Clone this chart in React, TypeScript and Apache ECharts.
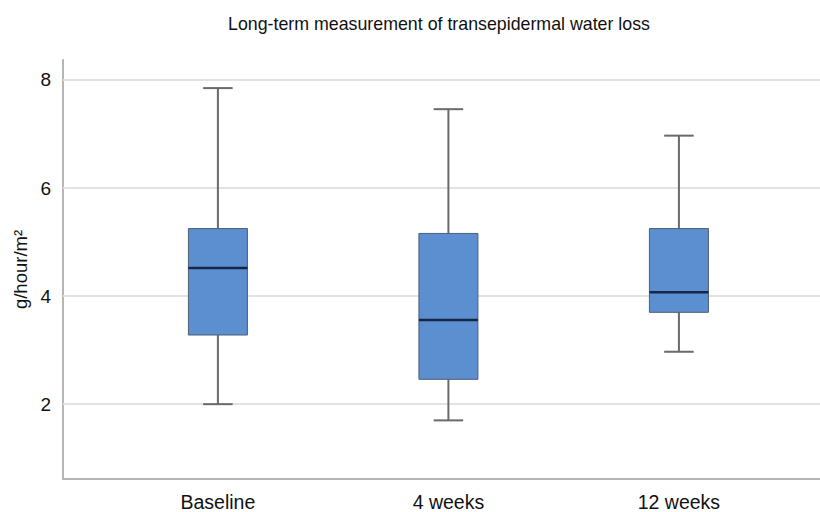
import React, { useEffect, useRef } from "react";
import * as echarts from "echarts";

const categories = ["Baseline", "4 weeks", "12 weeks"];
const minValues = [2.0, 1.7, 2.97];
const q1Values = [3.28, 2.46, 3.7];
const medianValues = [4.52, 3.56, 4.07];
const q3Values = [5.25, 5.16, 5.25];
const maxValues = [7.85, 7.46, 6.97];
const yTicks = [2, 4, 6, 8];
const categoryIndex = [0, 1, 2];

const FONT = "'Liberation Sans', Arial, sans-serif";

export default function App() {
  const ref = useRef<HTMLDivElement>(null);
  useEffect(() => {
    if (!ref.current) return;
    const chart = echarts.init(ref.current, undefined, { renderer: "svg" });
    const data = categories.map((_, i) => [
      categoryIndex[i],
      minValues[i],
      q1Values[i],
      medianValues[i],
      q3Values[i],
      maxValues[i],
    ]);
    chart.setOption({
      animation: false,
      backgroundColor: "#ffffff",
      title: {
        text: "Long-term measurement of transepidermal water loss",
        left: 434,
        top: 10,
        textAlign: "center",
        textStyle: { fontFamily: FONT, fontSize: 17.8, fontWeight: "normal", color: "#111" },
      },
      grid: { left: 63, right: 0, top: 60, bottom: 32, containLabel: false },
      xAxis: {
        type: "value",
        min: -0.672,
        max: 2.612,
        axisLine: { show: true, onZero: false, lineStyle: { color: "#b5b5b5", width: 2 } },
        axisTick: { show: false },
        splitLine: { show: false },
        axisLabel: {
          customValues: categoryIndex,
          formatter: (v: number) => categories[Math.round(v)] ?? "",
          fontFamily: FONT,
          fontSize: 19.5,
          color: "#111",
          margin: 13,
        },
      },
      yAxis: {
        type: "value",
        min: 0.615,
        max: 8.37,
        name: "g/hour/m\u00B2",
        nameLocation: "middle",
        nameGap: 26,
        nameRotate: 90,
        nameTextStyle: { fontFamily: FONT, fontSize: 18.5, color: "#111" },
        axisLine: { show: true, onZero: false, lineStyle: { color: "#b5b5b5", width: 2 } },
        axisTick: { show: false },
        splitLine: { show: false },
        axisLabel: {
          customValues: yTicks,
          fontFamily: FONT,
          fontSize: 19,
          color: "#111",
          margin: 12,
        },
      },
      series: [
        {
          type: "custom",
          z: 3,
          data,
          encode: { x: 0, y: [1, 2, 3, 4, 5] },
          renderItem: (params: any, api: any) => {
            const x = api.value(0);
            const lo = api.coord([x, api.value(1)]);
            const q1 = api.coord([x, api.value(2)]);
            const med = api.coord([x, api.value(3)]);
            const q3 = api.coord([x, api.value(4)]);
            const hi = api.coord([x, api.value(5)]);
            const w = api.size([1, 0])[0] * 0.256;
            const cap = w / 2;
            const cx = lo[0];
            const whisker = { stroke: "#6a6a6a", lineWidth: 2 };
            return {
              type: "group",
              children: [
                { type: "line", shape: { x1: cx, y1: hi[1], x2: cx, y2: q3[1] }, style: whisker },
                { type: "line", shape: { x1: cx, y1: q1[1], x2: cx, y2: lo[1] }, style: whisker },
                { type: "line", shape: { x1: cx - cap / 2, y1: hi[1], x2: cx + cap / 2, y2: hi[1] }, style: whisker },
                { type: "line", shape: { x1: cx - cap / 2, y1: lo[1], x2: cx + cap / 2, y2: lo[1] }, style: whisker },
                {
                  type: "rect",
                  shape: { x: cx - w / 2, y: q3[1], width: w, height: q1[1] - q3[1] },
                  style: { fill: "#5b8fd0", stroke: "#4d5e73", lineWidth: 1 },
                },
                {
                  type: "line",
                  shape: { x1: cx - w / 2, y1: med[1], x2: cx + w / 2, y2: med[1] },
                  style: { stroke: "#172646", lineWidth: 2.5 },
                },
              ],
            };
          },
          markLine: {
            silent: true,
            z: 1,
            symbol: "none",
            label: { show: false },
            lineStyle: { color: "#e2e2e2", width: 2, type: "solid" },
            data: yTicks.map((v) => ({ yAxis: v })),
          },
        },
      ],
    });
    return () => chart.dispose();
  }, []);
  return (
    <div
      ref={ref}
      style={{ position: "fixed", left: 0, top: 0, width: 820, height: 512, background: "#fff" }}
    />
  );
}
